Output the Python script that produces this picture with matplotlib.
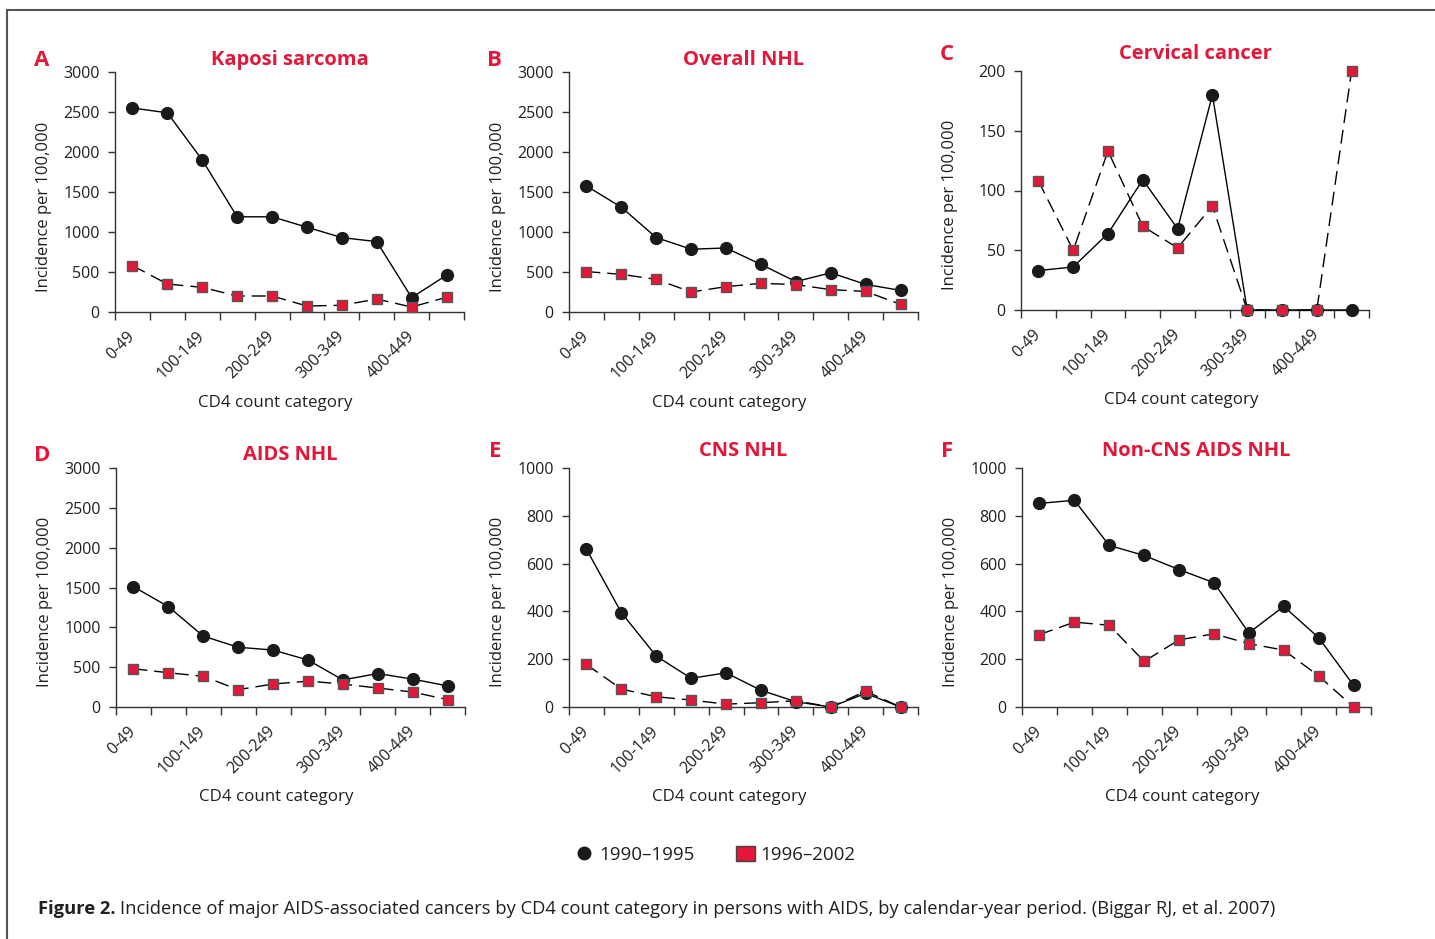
import matplotlib
matplotlib.use("Agg")
import matplotlib.pyplot as plt
from matplotlib.lines import Line2D
from matplotlib.patches import Patch

plt.rcParams['font.family'] = ['Open Sans', 'DejaVu Sans']

categories = ['0-49', '50-99', '100-149', '150-199', '200-249',
              '250-299', '300-349', '350-399', '400-449', '450-499']
shown_labels = ['0-49', '100-149', '200-249', '300-349', '400-449']

titles = ['Kaposi sarcoma', 'Overall NHL', 'Cervical cancer',
          'AIDS NHL', 'CNS NHL', 'Non-CNS AIDS NHL']
letters = ['A', 'B', 'C', 'D', 'E', 'F']
ymax = [3000, 3000, 200, 3000, 1000, 1000]
ystep = [500, 500, 50, 500, 200, 200]

early = [  # 1990-1995
    [2550, 2490, 1900, 1190, 1190, 1060, 930, 880, 180, 460],
    [1575, 1310, 930, 785, 800, 595, 380, 490, 345, 270],
    [33, 36, 64, 109, 68, 180, 0, 0, 0, 0],
    [1510, 1260, 890, 750, 715, 590, 340, 420, 350, 265],
    [660, 395, 213, 120, 143, 70, 22, 0, 57, 0],
    [852, 865, 676, 634, 575, 520, 310, 421, 290, 91],
]
late = [  # 1996-2002
    [580, 350, 308, 200, 200, 75, 84, 162, 62, 184],
    [505, 471, 408, 250, 317, 358, 343, 279, 257, 96],
    [108, 50, 133, 70, 52, 87, 0, 0, 0, 200],
    [480, 430, 385, 218, 288, 325, 288, 238, 188, 92],
    [178, 75, 43, 29, 12, 18, 26, 0, 66, 0],
    [303, 355, 342, 191, 281, 306, 265, 238, 130, 0],
]

RED = '#E2173A'
TXT = '#231F20'
W, H = 1435, 939

# axes boxes in pixels: left, right, top, bottom
boxes = [(115, 464, 72, 312), (569, 918, 72, 312), (1021, 1369, 71, 310),
         (116, 465, 468, 707), (569, 918, 468, 707), (1022, 1371, 468, 707)]
title_y = [60, 60, 54, 455, 451, 451]
letter_x = [42, 494, 947, 42, 495, 947]

fig = plt.figure(figsize=(W / 100, H / 100), dpi=100)

# frame around the figure
fig.add_artist(Line2D([7 / W, 7 / W], [0, 1 - 10 / H], color='#555555', lw=1.5))
fig.add_artist(Line2D([7 / W, 1], [1 - 10 / H, 1 - 10 / H], color='#555555', lw=1.5))

x = [i + 0.5 for i in range(len(categories))]
for k in range(6):
    l, r, t, b = boxes[k]
    ax = fig.add_axes([l / W, (H - b) / H, (r - l) / W, (b - t) / H])
    ax.plot(x, early[k], '-', color='black', lw=1, marker='o', ms=8.5,
            mfc='#1a1a1a', mec='#1a1a1a', zorder=3, clip_on=False)
    ax.plot(x, late[k], color='black', lw=1, dashes=(10, 5), marker='s', ms=7,
            mfc=RED, mec='#555555', mew=1, zorder=4, clip_on=False)
    ax.set_xlim(0, 10)
    ax.set_ylim(0, ymax[k])
    ax.set_yticks(range(0, ymax[k] + 1, ystep[k]))
    ax.set_xticks(range(11))
    ax.set_xticklabels([])
    ax.set_xticks([0.5, 2.5, 4.5, 6.5, 8.5], minor=True)
    ax.set_xticklabels(shown_labels, minor=True, rotation=45, ha='right',
                       va='center', rotation_mode='anchor')
    ax.tick_params(axis='x', which='minor', length=0, pad=16,
                   labelsize=11.5, labelcolor=TXT)
    ax.tick_params(axis='x', which='major', length=6, width=1, color='#333333')
    ax.tick_params(axis='y', length=5, width=1, color='#333333',
                   labelsize=11.5, labelcolor=TXT, pad=6)
    for s in ['top', 'right']:
        ax.spines[s].set_visible(False)
    for s in ['left', 'bottom']:
        ax.spines[s].set_color('#333333')
        ax.spines[s].set_linewidth(1)
    ax.set_ylabel('Incidence per 100,000', fontsize=12, color=TXT)
    ax.yaxis.set_label_coords(-0.18, 0.44)
    ax.set_xlabel('CD4 count category', fontsize=12.2, color=TXT)
    ax.xaxis.set_label_coords(0.46, -0.345)
    fig.text((l + r) / 2 / W, 1 - title_y[k] / H, titles[k], color=RED,
             fontsize=14.5, fontweight='bold', ha='center', va='center')
    fig.text(letter_x[k] / W, 1 - title_y[k] / H, letters[k], color=RED,
             fontsize=16, fontweight='bold', ha='center', va='center')

handles = [Line2D([], [], ls='none', marker='o', ms=9, mfc='#1a1a1a', mec='#1a1a1a'),
           Patch(facecolor=RED, edgecolor='#444444', lw=1)]
fig.legend(handles, ['1990\u20131995', '1996\u20132002'], ncol=2, frameon=False,
           loc='center', bbox_to_anchor=(715 / W, 1 - 855 / H),
           fontsize=13.5, handlelength=1.0, handleheight=0.8,
           handletextpad=0.3, columnspacing=2.2, labelcolor=TXT)

bold = fig.text(38 / W, 1 - 909 / H, 'Figure 2.', fontsize=13.2, fontweight='bold',
                color=TXT, ha='left', va='center')
fig.canvas.draw()
bb = bold.get_window_extent(fig.canvas.get_renderer())
fig.text((bb.x1 + 5) / W, 1 - 909 / H,
         'Incidence of major AIDS-associated cancers by CD4 count category in '
         'persons with AIDS, by calendar-year period. (Biggar RJ, et al. 2007)',
         fontsize=13.2, color=TXT, ha='left', va='center')

fig.savefig('out.png', dpi=100)
